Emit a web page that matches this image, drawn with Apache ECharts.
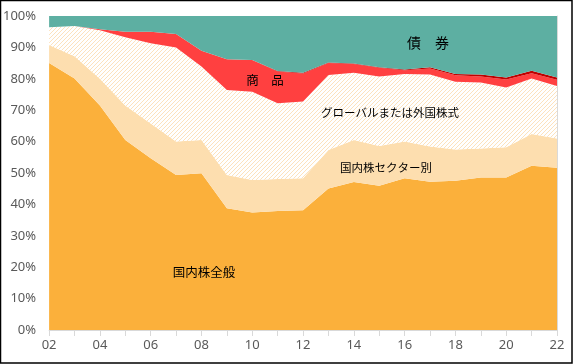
<!DOCTYPE html>
<html><head><meta charset="utf-8">
<script src="https://cdn.jsdelivr.net/npm/echarts@6/dist/echarts.min.js"></script>
<style>html,body{margin:0;padding:0;background:#fff}#c{width:573px;height:364px}</style>
</head><body><div id="c"></div>
<script>
const years = ['02','03','04','05','06','07','08','09','10','11','12','13','14','15','16','17','18','19','20','21','22'];
const domesticAll    = [85.0,80.1,71.5,60.5,54.7,49.4,49.9,38.8,37.4,37.9,38.1,45.1,47.1,45.9,48.3,47.2,47.5,48.6,48.6,52.3,51.7];
const domesticSector = [5.8,7.1,8.5,11.0,11.1,10.6,10.6,10.6,10.4,10.2,10.2,12.2,13.4,12.7,11.7,11.2,10.0,9.2,9.6,10.1,9.3];
const globalEq       = [5.6,9.6,15.5,21.7,25.5,30.0,23.4,27.0,28.1,24.1,24.5,23.9,21.4,22.1,21.5,23.0,21.6,21.0,19.0,17.7,16.7];
const commodity      = [0,0,0.3,1.8,3.7,4.3,5.0,9.8,10.1,10.1,8.9,3.8,2.8,2.8,1.2,1.9,2.0,1.9,2.6,1.7,2.0];
const other          = [0,0,0,0,0,0,0,0,0,0.2,0.2,0.2,0.2,0.2,0.3,0.4,0.4,0.7,0.6,0.8,0.7];
const bonds          = [3.6,3.2,4.2,5.0,5.0,5.7,11.1,13.8,14.0,17.5,18.1,14.8,15.1,16.3,17.0,16.3,18.5,18.6,19.6,17.4,19.6];
const yTicks = [0,10,20,30,40,50,60,70,80,90,100];

// hatch pattern for global equities
const pc = document.createElement('canvas');
pc.width = 4; pc.height = 4;
const px = pc.getContext('2d');
px.fillStyle = '#ffffff'; px.fillRect(0,0,4,4);
px.fillStyle = '#FCE2BD';
for (let x=0;x<4;x++){ for(let y=0;y<4;y++){ if((x+y)%4===3) px.fillRect(x,y,1,1);} }

const chart = echarts.init(document.getElementById('c'), null, {renderer:'canvas'});
function s(name, data, color){
  return {name, type:'line', stack:'t', data, symbol:'none', smooth:false,
    lineStyle:{width:0}, areaStyle:{color, opacity:1}, emphasis:{disabled:true}};
}
const axisFont = {color:'#595959', fontSize:13, fontFamily:'Noto Sans, sans-serif'};
chart.setOption({
  animation:false,
  grid:{left:49, right:16, top:16, bottom:34, containLabel:false},
  xAxis:{type:'category', data:years, boundaryGap:false,
    axisLine:{lineStyle:{color:'#d9d9d9'}},
    axisTick:{show:true, interval:0, length:6, lineStyle:{color:'#d9d9d9'}},
    axisLabel:Object.assign({interval:1, margin:9}, axisFont),
    splitLine:{show:false}},
  yAxis:[{type:'value', min:yTicks[0], max:yTicks[yTicks.length-1], interval:10,
    axisLine:{show:false}, axisTick:{show:false}, splitLine:{show:false},
    axisLabel:Object.assign({formatter:'{value}%', margin:13}, axisFont)},
    {type:'value', position:'right', min:0, max:100, axisLine:{show:true, lineStyle:{color:'#d9d9d9'}},
     axisTick:{show:false}, axisLabel:{show:false}, splitLine:{show:false}}],
  series:[
    s('国内株全般', domesticAll, '#FBB03B'),
    s('国内株セクター別', domesticSector, '#FDDEAF'),
    s('グローバルまたは外国株式', globalEq, {image:pc, repeat:'repeat'}),
    s('商品', commodity, '#FF4040'),
    s('その他', other, '#C00000'),
    s('債券', bonds, '#5DAFA2')
  ],
  graphic:[
    {type:'rect', shape:{x:0.5,y:0.5,width:571.5,height:362.5}, style:{fill:null, stroke:'#000', lineWidth:1.5}, z:100},
    {type:'text', x:428, y:43, style:{text:'債　券', font:'14px "Noto Sans CJK JP"', fill:'#000', align:'center', verticalAlign:'middle'}, z:100},
    {type:'text', x:265, y:80, style:{text:'商　品', font:'12.5px "Noto Sans CJK JP"', fill:'#000', align:'center', verticalAlign:'middle'}, z:100},
    {type:'text', x:390, y:113, style:{text:'グローバルまたは外国株式', font:'11.5px "Noto Sans CJK JP"', fill:'#000', align:'center', verticalAlign:'middle'}, z:100},
    {type:'text', x:386, y:168, style:{text:'国内株セクター別', font:'11.5px "Noto Sans CJK JP"', fill:'#000', align:'center', verticalAlign:'middle'}, z:100},
    {type:'text', x:204, y:272, style:{text:'国内株全般', font:'12.5px "Noto Sans CJK JP"', fill:'#000', align:'center', verticalAlign:'middle'}, z:100}
  ]
});
</script></body></html>
